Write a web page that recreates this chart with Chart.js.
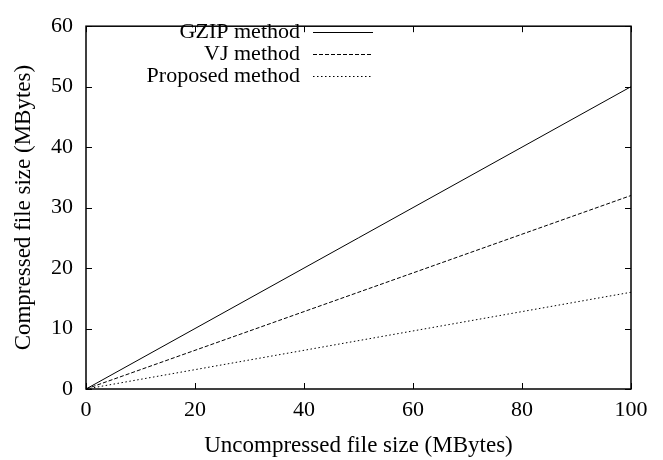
<!DOCTYPE html>
<html>
<head>
<meta charset="utf-8">
<script src="https://cdn.jsdelivr.net/npm/chart.js@4/dist/chart.umd.min.js"></script>
<style>
html,body{margin:0;padding:0;background:#fff;}
#wrap{width:663px;height:460px;}
</style>
</head>
<body>
<div id="wrap"><canvas id="c" width="663" height="460"></canvas></div>
<script>
const xValues = [0, 100];
const gzipValues = [0, 50];
const vjValues = [0, 32];
const proposedValues = [0, 16];
const seriesNames = ['GZIP method', 'VJ method', 'Proposed method'];
const xTicks = [0, 20, 40, 60, 80, 100];
const yTicks = [0, 10, 20, 30, 40, 50, 60];

const FONT = '"Liberation Serif", "Times New Roman", serif';
const dashes = [[], [4, 2], [1.5, 2.5]];

function pts(ys){ return xValues.map((x,i)=>({x:x,y:ys[i]})); }

const gnuplotPlugin = {
  id: 'gnuplot',
  afterDatasetsDraw(chart){
    const ctx = chart.ctx, a = chart.chartArea;
    const xs = chart.scales.x, ys = chart.scales.y;
    ctx.save();
    ctx.strokeStyle = '#000';
    ctx.lineWidth = 1.5;
    ctx.strokeRect(a.left, a.top, a.right - a.left, a.bottom - a.top);
    ctx.lineWidth = 1;
    const tl = 6;
    ctx.beginPath();
    xTicks.forEach(v=>{
      const px = Math.round(xs.getPixelForValue(v)) + 0.5;
      ctx.moveTo(px, a.bottom); ctx.lineTo(px, a.bottom - tl);
      ctx.moveTo(px, a.top); ctx.lineTo(px, a.top + tl);
    });
    yTicks.forEach(v=>{
      const py = Math.round(ys.getPixelForValue(v)) + 0.5;
      ctx.moveTo(a.left, py); ctx.lineTo(a.left + tl, py);
      ctx.moveTo(a.right, py); ctx.lineTo(a.right - tl, py);
    });
    ctx.stroke();
    // legend
    ctx.font = '22px ' + FONT;
    ctx.fillStyle = '#000';
    ctx.textAlign = 'right';
    ctx.textBaseline = 'middle';
    const textRight = 300, lx0 = 313, lx1 = 373;
    chart.data.datasets.forEach((ds, i)=>{
      const y = 32 + i * 22;
      ctx.fillText(ds.label, textRight, y);
      ctx.beginPath();
      ctx.setLineDash(dashes[i]);
      ctx.lineWidth = 1;
      ctx.moveTo(lx0, Math.round(y) + 0.5); ctx.lineTo(lx1, Math.round(y) + 0.5);
      ctx.stroke();
    });
    ctx.setLineDash([]);
    ctx.restore();
  }
};

const mk = (label, ys, i) => ({
  label: label, data: pts(ys), borderColor: '#000', borderWidth: 1,
  borderDash: dashes[i], pointRadius: 0, fill: false, tension: 0
});

new Chart(document.getElementById('c'), {
  type: 'line',
  data: { datasets: [
    mk(seriesNames[0], gzipValues, 0),
    mk(seriesNames[1], vjValues, 1),
    mk(seriesNames[2], proposedValues, 2)
  ]},
  options: {
    responsive: false, animation: false,
    layout: { padding: { left: 0, right: 32, top: 14, bottom: 0 } },
    plugins: { legend: { display: false }, tooltip: { enabled: false } },
    scales: {
      x: {
        type: 'linear', min: 0, max: 100,
        afterBuildTicks: s => { s.ticks = xTicks.map(v=>({value:v})); },
        afterFit: s => { s.height = 71; },
        grid: { display: false, drawTicks: false },
        border: { display: false },
        ticks: { color: '#000', font: { family: FONT, size: 22 }, padding: 8, maxRotation: 0 },
        title: { display: true, text: 'Uncompressed file size (MBytes)', color: '#000',
                 font: { family: FONT, size: 23 }, padding: { top: 4, bottom: 0 } }
      },
      y: {
        type: 'linear', min: 0, max: 60,
        afterBuildTicks: s => { s.ticks = yTicks.map(v=>({value:v})); },
        afterFit: s => { s.width = 86; },
        grid: { display: false, drawTicks: false },
        border: { display: false },
        ticks: { color: '#000', font: { family: FONT, size: 22 }, padding: 13 },
        title: { display: true, text: 'Compressed file size (MBytes)', color: '#000',
                 font: { family: FONT, size: 23 }, padding: { top: 10, bottom: 0 } }
      }
    }
  },
  plugins: [gnuplotPlugin]
});
</script>
</body>
</html>
